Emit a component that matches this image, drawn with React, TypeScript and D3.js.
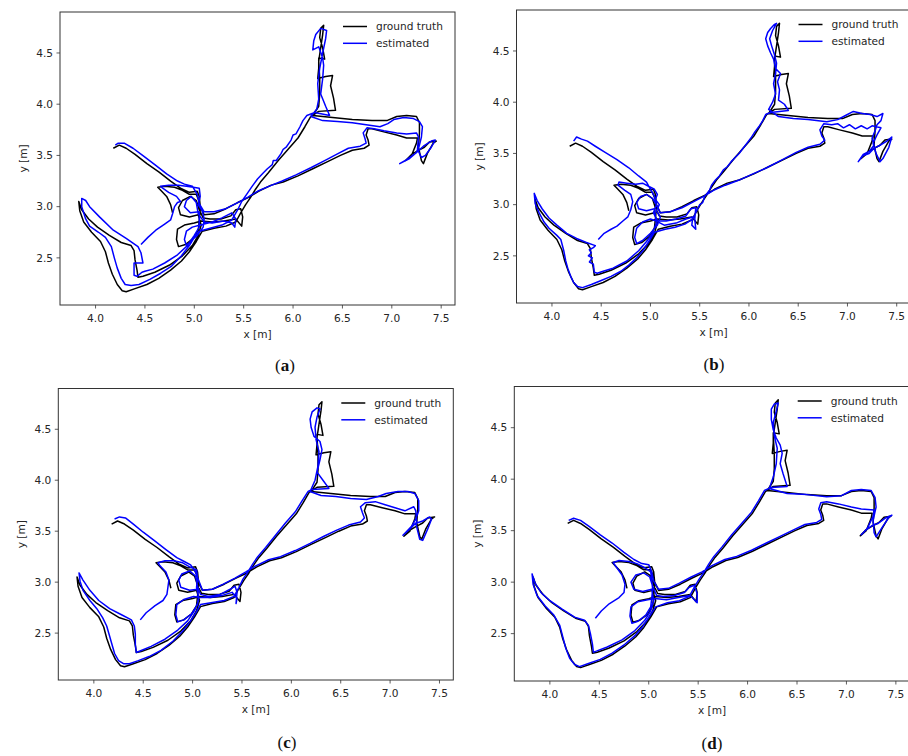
import React, { useRef, useEffect } from 'react';
import * as d3 from 'd3';

type Pt = [number, number];

const X_TICKS = [4.0, 4.5, 5.0, 5.5, 6.0, 6.5, 7.0, 7.5];
const Y_TICKS = [2.5, 3.0, 3.5, 4.0, 4.5];
const X_DOMAIN = [3.64, 7.64];
const Y_DOMAIN = [2.04, 4.9];
const LEGEND_LABELS = ['ground truth', 'estimated'];
const LINE_COLORS = ['#000000', '#0000ff'];
const PANEL_NAMES = ['a', 'b', 'c', 'd'];

// ground truth trajectory (same in every panel)
const GROUND_TRUTH: Pt[] = [
    [4.78, 2.94], [4.76, 3.02], [4.72, 3.10], [4.66, 3.16], [4.63, 3.19], [4.70, 3.20], [4.80, 3.19], [4.88, 3.16], [4.95, 3.12], [5.02, 3.12],
    [5.05, 3.05], [5.06, 2.96], [5.05, 2.86], [5.04, 2.77],
    [4.99, 2.69], [4.91, 2.63], [4.84, 2.61], [4.82, 2.68], [4.83, 2.78], [4.90, 2.82], [5.00, 2.84], [5.07, 2.86],
    [5.18, 2.85], [5.30, 2.86], [5.42, 2.88], [5.48, 2.81], [5.49, 2.90], [5.47, 2.98], [5.42, 2.97], [5.37, 2.91], [5.27, 2.88], [5.16, 2.88], [5.09, 2.89],
    [5.05, 2.97], [5.02, 3.06], [4.96, 3.10], [4.88, 3.06], [4.84, 2.99], [4.86, 2.92], [4.95, 2.90], [5.04, 2.92],
    [5.07, 2.82], [5.04, 2.72], [4.98, 2.62], [4.88, 2.52], [4.75, 2.43], [4.60, 2.36], [4.48, 2.32], [4.43, 2.31],
    [4.42, 2.38], [4.40, 2.48], [4.39, 2.57], [4.36, 2.62],
    [4.26, 2.65], [4.14, 2.72], [4.02, 2.80], [3.93, 2.88], [3.86, 2.97], [3.83, 3.05],
    [3.84, 2.96], [3.88, 2.85], [3.96, 2.75], [4.05, 2.66], [4.10, 2.56], [4.13, 2.45], [4.17, 2.34], [4.22, 2.24], [4.27, 2.18], [4.31, 2.17],
    [4.40, 2.20], [4.52, 2.24], [4.64, 2.30], [4.76, 2.38], [4.87, 2.47], [4.95, 2.56], [5.02, 2.66], [5.08, 2.76],
    [5.20, 2.79], [5.32, 2.81], [5.42, 2.85],
    [5.47, 2.94], [5.52, 3.02], [5.57, 3.09], [5.62, 3.17], [5.67, 3.24], [5.75, 3.33], [5.85, 3.45], [5.95, 3.56], [6.05, 3.67], [6.12, 3.78], [6.18, 3.88],
    [6.26, 3.93], [6.43, 3.94], [6.41, 4.06], [6.38, 4.18], [6.40, 4.28], [6.33, 4.27], [6.25, 4.25], [6.26, 4.35], [6.26, 4.45], [6.32, 4.44],
    [6.30, 4.55], [6.27, 4.65], [6.28, 4.74], [6.31, 4.77], [6.30, 4.68], [6.28, 4.55], [6.26, 4.42], [6.27, 4.25], [6.27, 4.10], [6.26, 3.98], [6.20, 3.89],
    [6.40, 3.87], [6.60, 3.85], [6.80, 3.84], [6.95, 3.84], [7.05, 3.88], [7.15, 3.89], [7.25, 3.88], [7.28, 3.82], [7.28, 3.72],
    [7.27, 3.58], [7.30, 3.45], [7.32, 3.42], [7.36, 3.52], [7.42, 3.62], [7.45, 3.64], [7.38, 3.63], [7.33, 3.58], [7.27, 3.55], [7.20, 3.51],
    [7.14, 3.45], [7.20, 3.50], [7.25, 3.62], [7.26, 3.67],
    [7.15, 3.67], [7.05, 3.70], [6.92, 3.73], [6.80, 3.76], [6.76, 3.76], [6.74, 3.70], [6.76, 3.65], [6.77, 3.60], [6.72, 3.57], [6.60, 3.55], [6.48, 3.50],
    [6.35, 3.44], [6.20, 3.37], [6.05, 3.30], [5.90, 3.24], [5.78, 3.21], [5.65, 3.15], [5.55, 3.09], [5.44, 3.04], [5.32, 2.98], [5.20, 2.93],
    [5.10, 2.92], [5.06, 3.00], [5.05, 3.10], [5.03, 3.15], [4.95, 3.14], [4.86, 3.18], [4.76, 3.25], [4.64, 3.34], [4.52, 3.42], [4.40, 3.51],
    [4.31, 3.57], [4.24, 3.60], [4.18, 3.57]
];

const ESTIMATED_A: Pt[] = [
    [4.46, 2.63], [4.53, 2.70], [4.61, 2.77], [4.70, 2.83], [4.76, 2.87], [4.78, 2.93], [4.80, 3.00], [4.83, 3.04], [4.86, 3.05], [4.82, 3.10],
    [4.74, 3.14], [4.68, 3.18], [4.66, 3.20], [4.74, 3.21], [4.84, 3.21], [4.92, 3.20], [4.99, 3.19], [5.05, 3.18],
    [5.06, 3.10], [5.04, 3.02], [5.08, 2.96], [5.10, 2.88], [5.09, 2.80],
    [5.03, 2.72], [4.96, 2.66], [4.92, 2.62], [4.90, 2.68], [4.92, 2.76], [4.98, 2.80], [5.06, 2.82],
    [5.18, 2.85], [5.28, 2.89], [5.38, 2.94], [5.42, 2.88], [5.41, 2.80], [5.38, 2.84], [5.30, 2.86], [5.18, 2.84], [5.10, 2.85],
    [5.04, 2.93], [5.02, 3.04], [4.97, 3.10], [4.92, 3.06], [4.90, 3.00], [4.96, 2.94], [5.05, 2.95],
    [5.05, 2.80], [5.00, 2.72], [4.93, 2.62], [4.83, 2.53], [4.70, 2.45], [4.58, 2.39], [4.50, 2.37], [4.47, 2.36],
    [4.42, 2.32], [4.39, 2.33], [4.39, 2.45], [4.48, 2.45], [4.46, 2.55], [4.43, 2.61],
    [4.31, 2.69], [4.18, 2.77], [4.04, 2.90], [3.94, 3.00], [3.90, 3.06], [3.86, 3.08],
    [3.86, 3.00], [3.90, 2.88], [3.94, 2.81], [4.03, 2.75], [4.10, 2.70], [4.16, 2.61], [4.19, 2.50], [4.22, 2.40], [4.26, 2.30], [4.30, 2.24], [4.36, 2.23],
    [4.44, 2.24], [4.55, 2.29], [4.66, 2.35], [4.77, 2.42], [4.87, 2.52], [4.95, 2.62], [5.00, 2.70], [5.05, 2.76],
    [5.16, 2.79], [5.28, 2.82], [5.38, 2.87],
    [5.44, 2.97], [5.48, 3.05], [5.53, 3.12], [5.58, 3.19], [5.64, 3.27], [5.70, 3.33], [5.74, 3.37], [5.79, 3.41], [5.80, 3.45], [5.83, 3.45],
    [5.88, 3.52], [5.90, 3.56], [5.93, 3.58], [5.98, 3.65], [6.00, 3.70], [6.03, 3.71], [6.07, 3.78], [6.10, 3.84], [6.14, 3.89],
    [6.22, 3.92], [6.37, 3.89], [6.33, 3.98], [6.28, 4.10], [6.30, 4.25], [6.31, 4.38], [6.30, 4.45], [6.26, 4.56], [6.20, 4.53], [6.21, 4.62],
    [6.23, 4.68], [6.28, 4.74], [6.34, 4.72], [6.33, 4.64], [6.30, 4.50], [6.27, 4.35], [6.25, 4.20], [6.26, 4.05], [6.24, 3.95], [6.18, 3.88],
    [6.30, 3.84], [6.45, 3.83], [6.60, 3.82], [6.74, 3.80], [6.88, 3.78], [6.96, 3.81], [7.02, 3.85], [7.12, 3.87], [7.22, 3.86], [7.28, 3.83], [7.31, 3.78],
    [7.30, 3.68], [7.28, 3.60], [7.25, 3.53], [7.18, 3.47], [7.08, 3.42], [7.15, 3.46], [7.24, 3.52], [7.32, 3.59], [7.40, 3.64], [7.44, 3.65],
    [7.40, 3.58], [7.34, 3.50], [7.30, 3.48], [7.26, 3.56], [7.27, 3.68], [7.25, 3.72],
    [7.15, 3.71], [7.05, 3.72], [6.92, 3.74], [6.82, 3.76], [6.75, 3.77], [6.71, 3.72], [6.73, 3.66], [6.74, 3.62], [6.68, 3.59], [6.56, 3.57], [6.44, 3.51],
    [6.32, 3.45], [6.18, 3.38], [6.03, 3.31], [5.89, 3.25], [5.76, 3.20], [5.64, 3.15], [5.54, 3.09], [5.44, 3.04], [5.32, 2.98], [5.20, 2.95],
    [5.10, 2.95], [5.05, 3.03], [5.03, 3.12], [4.98, 3.20], [4.90, 3.22], [4.83, 3.25], [4.72, 3.32], [4.60, 3.41], [4.49, 3.49], [4.38, 3.57],
    [4.29, 3.62], [4.23, 3.62], [4.20, 3.60]
];

const ESTIMATED_B: Pt[] = [
    [4.47, 2.66], [4.53, 2.72], [4.60, 2.76], [4.66, 2.79], [4.72, 2.84], [4.77, 2.88], [4.80, 2.95], [4.82, 3.03], [4.80, 3.10], [4.74, 3.14],
    [4.67, 3.19], [4.68, 3.22], [4.76, 3.21], [4.85, 3.20], [4.92, 3.21], [4.98, 3.18], [5.04, 3.15],
    [5.07, 3.10], [5.05, 3.05], [5.09, 3.00], [5.06, 2.94], [5.10, 2.88], [5.07, 2.80],
    [5.00, 2.72], [4.92, 2.65], [4.86, 2.62], [4.84, 2.68], [4.86, 2.77], [4.92, 2.83], [5.00, 2.86], [5.06, 2.84],
    [5.16, 2.84], [5.26, 2.86], [5.36, 2.89], [5.41, 2.96], [5.46, 2.97], [5.45, 2.86], [5.46, 2.76], [5.42, 2.80], [5.43, 2.88], [5.36, 2.86],
    [5.26, 2.82], [5.14, 2.80], [5.08, 2.83],
    [5.03, 2.92], [5.06, 3.00], [5.02, 3.06], [4.96, 3.10], [4.90, 3.08], [4.86, 3.02], [4.88, 2.96], [4.96, 2.94], [5.04, 2.96],
    [5.06, 2.82], [5.02, 2.72], [4.96, 2.64], [4.88, 2.55], [4.76, 2.45], [4.62, 2.38], [4.52, 2.35], [4.46, 2.33],
    [4.43, 2.34], [4.42, 2.42], [4.38, 2.44], [4.41, 2.48], [4.37, 2.50], [4.40, 2.53], [4.38, 2.56], [4.42, 2.58], [4.44, 2.60],
    [4.35, 2.63], [4.25, 2.67], [4.15, 2.72], [4.05, 2.80], [3.97, 2.87], [3.90, 2.96], [3.85, 3.04], [3.82, 3.11],
    [3.83, 3.01], [3.87, 2.92], [3.92, 2.83], [3.97, 2.77], [4.05, 2.70], [4.09, 2.66], [4.12, 2.55], [4.14, 2.45], [4.16, 2.38], [4.19, 2.30],
    [4.22, 2.24], [4.26, 2.20], [4.31, 2.19],
    [4.40, 2.22], [4.50, 2.26], [4.60, 2.30], [4.70, 2.35], [4.78, 2.41], [4.86, 2.48], [4.93, 2.56], [4.99, 2.65], [5.04, 2.73],
    [5.15, 2.76], [5.25, 2.78], [5.35, 2.81], [5.43, 2.86],
    [5.47, 2.94], [5.50, 3.00], [5.53, 3.02], [5.55, 3.08], [5.60, 3.14], [5.62, 3.19], [5.66, 3.24], [5.70, 3.28], [5.74, 3.34], [5.78, 3.37],
    [5.82, 3.42], [5.86, 3.46], [5.90, 3.50], [5.94, 3.55], [5.98, 3.60], [6.02, 3.65], [6.06, 3.71], [6.10, 3.76], [6.14, 3.82], [6.17, 3.88],
    [6.22, 3.90], [6.40, 3.92], [6.36, 3.98], [6.30, 4.02], [6.31, 4.12], [6.29, 4.20], [6.32, 4.28], [6.27, 4.33], [6.25, 4.42], [6.22, 4.48],
    [6.19, 4.55], [6.17, 4.62], [6.19, 4.68], [6.22, 4.72], [6.26, 4.76], [6.28, 4.77], [6.24, 4.70], [6.21, 4.62], [6.23, 4.55], [6.26, 4.46],
    [6.28, 4.38], [6.27, 4.28], [6.25, 4.18], [6.27, 4.08], [6.24, 4.00], [6.20, 3.93],
    [6.30, 3.86], [6.45, 3.84], [6.60, 3.83], [6.79, 3.81], [6.90, 3.83], [6.98, 3.87], [7.06, 3.91], [7.15, 3.89], [7.23, 3.88], [7.30, 3.86],
    [7.36, 3.89], [7.34, 3.82], [7.30, 3.78],
    [7.28, 3.72], [7.25, 3.65], [7.27, 3.58], [7.22, 3.52], [7.16, 3.49], [7.11, 3.42], [7.16, 3.48], [7.22, 3.50], [7.27, 3.55], [7.33, 3.58],
    [7.40, 3.62], [7.45, 3.66], [7.42, 3.56], [7.36, 3.45], [7.33, 3.42], [7.29, 3.50], [7.26, 3.60], [7.30, 3.68], [7.34, 3.75],
    [7.25, 3.77], [7.20, 3.74], [7.14, 3.77], [7.08, 3.74], [7.02, 3.78], [6.96, 3.75], [6.90, 3.79], [6.84, 3.78], [6.76, 3.79], [6.72, 3.73],
    [6.74, 3.67], [6.77, 3.63], [6.72, 3.59], [6.60, 3.56], [6.48, 3.51],
    [6.34, 3.44], [6.18, 3.36], [6.04, 3.30], [5.90, 3.24], [5.76, 3.19], [5.64, 3.14], [5.54, 3.08], [5.44, 3.03], [5.32, 2.97], [5.20, 2.93],
    [5.10, 2.92], [5.06, 3.00], [5.04, 3.08], [5.00, 3.15], [4.96, 3.22], [4.88, 3.28], [4.78, 3.36], [4.66, 3.44], [4.54, 3.51], [4.44, 3.57],
    [4.36, 3.62], [4.30, 3.64], [4.25, 3.66], [4.22, 3.62]
];

const ESTIMATED_C: Pt[] = [
    [4.47, 2.63], [4.53, 2.70], [4.62, 2.77], [4.70, 2.82], [4.74, 2.88], [4.75, 2.95], [4.76, 3.02], [4.73, 3.10], [4.67, 3.16], [4.65, 3.19],
    [4.72, 3.21], [4.81, 3.21], [4.90, 3.19], [4.97, 3.15], [5.04, 3.12],
    [5.05, 3.04], [5.04, 2.95], [5.06, 2.86], [5.05, 2.78],
    [4.99, 2.69], [4.91, 2.63], [4.85, 2.61], [4.83, 2.68], [4.84, 2.78], [4.91, 2.83], [5.01, 2.86], [5.08, 2.85],
    [5.18, 2.85], [5.30, 2.87], [5.40, 2.90], [5.45, 2.84], [5.44, 2.79], [5.45, 2.90], [5.43, 2.96], [5.38, 2.93], [5.28, 2.88], [5.16, 2.86], [5.08, 2.88],
    [5.05, 2.96], [5.03, 3.06], [4.97, 3.11], [4.89, 3.08], [4.86, 3.02], [4.88, 2.95], [4.97, 2.92], [5.05, 2.93],
    [5.06, 2.82], [5.02, 2.72], [4.95, 2.62], [4.85, 2.53], [4.72, 2.44], [4.58, 2.37], [4.48, 2.33], [4.43, 2.31],
    [4.42, 2.39], [4.42, 2.49], [4.41, 2.57], [4.38, 2.63],
    [4.28, 2.68], [4.16, 2.74], [4.05, 2.82], [3.96, 2.92], [3.89, 3.02], [3.85, 3.09],
    [3.86, 3.01], [3.89, 2.92], [3.96, 2.82], [4.03, 2.74], [4.09, 2.65], [4.13, 2.57], [4.16, 2.47], [4.18, 2.40], [4.21, 2.30], [4.25, 2.23],
    [4.30, 2.20], [4.36, 2.20],
    [4.45, 2.23], [4.56, 2.27], [4.68, 2.33], [4.80, 2.42], [4.90, 2.52], [4.98, 2.62], [5.04, 2.71], [5.08, 2.78],
    [5.20, 2.80], [5.32, 2.82], [5.42, 2.86],
    [5.47, 2.95], [5.51, 3.03], [5.56, 3.10], [5.61, 3.18], [5.66, 3.25], [5.74, 3.34], [5.84, 3.46], [5.94, 3.58], [6.04, 3.69], [6.11, 3.80], [6.17, 3.89],
    [6.21, 3.91], [6.38, 3.92], [6.32, 4.00], [6.26, 4.08], [6.29, 4.20], [6.31, 4.30], [6.29, 4.38], [6.23, 4.43], [6.20, 4.52], [6.19, 4.60],
    [6.21, 4.67], [6.26, 4.71], [6.29, 4.70], [6.26, 4.62], [6.24, 4.52], [6.25, 4.40], [6.28, 4.28], [6.27, 4.14], [6.24, 4.00], [6.19, 3.89],
    [6.30, 3.85], [6.45, 3.84], [6.60, 3.82], [6.76, 3.81], [6.88, 3.84], [6.96, 3.87], [7.08, 3.89], [7.18, 3.89], [7.25, 3.87], [7.29, 3.80],
    [7.29, 3.70], [7.26, 3.62], [7.22, 3.55], [7.15, 3.48], [7.13, 3.46], [7.20, 3.52], [7.26, 3.58], [7.30, 3.42], [7.33, 3.41], [7.38, 3.52],
    [7.42, 3.62], [7.40, 3.64], [7.33, 3.60], [7.27, 3.58], [7.26, 3.70], [7.24, 3.74],
    [7.15, 3.70], [7.05, 3.73], [6.95, 3.76], [6.85, 3.79], [6.75, 3.78], [6.70, 3.74], [6.72, 3.68], [6.74, 3.63], [6.70, 3.59], [6.58, 3.56], [6.46, 3.51],
    [6.33, 3.45], [6.19, 3.38], [6.04, 3.31], [5.89, 3.25], [5.77, 3.22], [5.64, 3.16], [5.54, 3.10], [5.43, 3.04], [5.31, 2.98], [5.20, 2.93],
    [5.10, 2.92], [5.06, 3.02], [5.03, 3.10], [4.98, 3.17], [4.92, 3.20], [4.84, 3.24], [4.73, 3.32], [4.61, 3.41], [4.50, 3.49], [4.40, 3.57],
    [4.32, 3.63], [4.26, 3.64], [4.21, 3.62]
];

const ESTIMATED_D: Pt[] = [
    [4.46, 2.65], [4.52, 2.72], [4.60, 2.79], [4.70, 2.85], [4.75, 2.90], [4.76, 2.98], [4.73, 3.07], [4.67, 3.15], [4.64, 3.19], [4.70, 3.21],
    [4.80, 3.20], [4.88, 3.18], [4.96, 3.14], [5.02, 3.10],
    [5.03, 3.02], [5.04, 2.93], [5.03, 2.84], [5.02, 2.76],
    [4.97, 2.68], [4.89, 2.62], [4.83, 2.60], [4.81, 2.67], [4.82, 2.76], [4.89, 2.81], [4.99, 2.83], [5.06, 2.84],
    [5.18, 2.83], [5.30, 2.85], [5.42, 2.87], [5.49, 2.80], [5.49, 2.89], [5.46, 2.97], [5.41, 2.95], [5.36, 2.90], [5.26, 2.87], [5.15, 2.86], [5.08, 2.87],
    [5.04, 2.96], [5.01, 3.05], [4.95, 3.09], [4.87, 3.07], [4.82, 3.00], [4.85, 2.93], [4.94, 2.91], [5.03, 2.93],
    [5.05, 2.82], [5.02, 2.72], [4.96, 2.63], [4.86, 2.53], [4.73, 2.44], [4.58, 2.37], [4.47, 2.33], [4.44, 2.32],
    [4.43, 2.40], [4.41, 2.50], [4.39, 2.58], [4.35, 2.63],
    [4.25, 2.66], [4.12, 2.74], [4.00, 2.82], [3.91, 2.90], [3.85, 2.99], [3.82, 3.08],
    [3.83, 2.98], [3.87, 2.87], [3.95, 2.77], [4.04, 2.68], [4.10, 2.58], [4.13, 2.47], [4.16, 2.36], [4.20, 2.26], [4.25, 2.20], [4.30, 2.18],
    [4.39, 2.21], [4.51, 2.25], [4.63, 2.31], [4.75, 2.39], [4.86, 2.48], [4.94, 2.57], [5.01, 2.67], [5.07, 2.76],
    [5.19, 2.80], [5.31, 2.82], [5.41, 2.86],
    [5.46, 2.95], [5.51, 3.03], [5.56, 3.10], [5.61, 3.18], [5.66, 3.25], [5.74, 3.34], [5.84, 3.46], [5.94, 3.57], [6.04, 3.68], [6.11, 3.79], [6.17, 3.89],
    [6.24, 3.92], [6.40, 3.93], [6.36, 4.05], [6.33, 4.15], [6.35, 4.25], [6.33, 4.33], [6.29, 4.40], [6.26, 4.48], [6.24, 4.58], [6.24, 4.68],
    [6.27, 4.73], [6.31, 4.74], [6.29, 4.66], [6.26, 4.55], [6.27, 4.42], [6.30, 4.30], [6.29, 4.15], [6.26, 4.02], [6.22, 3.91],
    [6.40, 3.86], [6.60, 3.85], [6.80, 3.83], [6.95, 3.84], [7.05, 3.89], [7.15, 3.90], [7.25, 3.89], [7.29, 3.82], [7.30, 3.73],
    [7.27, 3.60], [7.28, 3.48], [7.30, 3.44], [7.36, 3.53], [7.43, 3.63], [7.46, 3.65], [7.39, 3.62], [7.32, 3.57], [7.26, 3.55], [7.19, 3.50],
    [7.15, 3.46], [7.21, 3.52], [7.27, 3.64], [7.28, 3.70],
    [7.15, 3.71], [7.05, 3.73], [6.92, 3.76], [6.80, 3.78], [6.74, 3.77], [6.72, 3.71], [6.74, 3.66], [6.75, 3.61], [6.70, 3.58], [6.58, 3.56], [6.47, 3.51],
    [6.34, 3.45], [6.19, 3.38], [6.04, 3.31], [5.89, 3.25], [5.77, 3.22], [5.64, 3.16], [5.54, 3.10], [5.43, 3.05], [5.31, 2.99], [5.20, 2.94],
    [5.10, 2.93], [5.05, 3.01], [5.03, 3.10], [5.00, 3.17], [4.93, 3.18], [4.85, 3.22], [4.75, 3.29], [4.63, 3.38], [4.51, 3.46], [4.40, 3.54],
    [4.31, 3.60], [4.24, 3.62], [4.19, 3.60]
];

const ESTIMATES = [ESTIMATED_A, ESTIMATED_B, ESTIMATED_C, ESTIMATED_D];

// pixel frame of each axes box, and where its (x) caption sits
const LAYOUT = [
    { x0: 60, x1: 455, y0: 12, y1: 305, capX: 285, capY: 371 },
    { x0: 516.5, x1: 910.5, y0: 10, y1: 303, capX: 714, capY: 370 },
    { x0: 58.3, x1: 453.3, y0: 388.5, y1: 680, capX: 287, capY: 748 },
    { x0: 514.3, x1: 909.7, y0: 386.5, y1: 681, capX: 712, capY: 749 }
];

const FONT = 'DejaVu Sans, sans-serif';
const TEXT_COLOR = '#262626';

const App = () => {
    const ref = useRef<SVGSVGElement>(null);

    useEffect(() => {
        const svg = d3.select(ref.current);
        svg.selectAll('*').remove();

        LAYOUT.forEach((box, i) => {
            const xScale = d3.scaleLinear().domain(X_DOMAIN).range([box.x0, box.x1]);
            const yScale = d3.scaleLinear().domain(Y_DOMAIN).range([box.y1, box.y0]);
            const g = svg.append('g');

            const line = d3.line<Pt>()
                .x(d => xScale(d[0]))
                .y(d => yScale(d[1]));

            // trajectories: ground truth first, estimate on top
            [GROUND_TRUTH, ESTIMATES[i]].forEach((pts, k) => {
                g.append('path')
                    .datum(pts)
                    .attr('fill', 'none')
                    .attr('stroke', LINE_COLORS[k])
                    .attr('stroke-width', 1.5)
                    .attr('stroke-linejoin', 'round')
                    .attr('d', line);
            });

            // frame
            g.append('rect')
                .attr('x', box.x0)
                .attr('y', box.y0)
                .attr('width', box.x1 - box.x0)
                .attr('height', box.y1 - box.y0)
                .attr('fill', 'none')
                .attr('stroke', '#333')
                .attr('stroke-width', 1);

            // x ticks
            X_TICKS.forEach(t => {
                const x = xScale(t);
                g.append('line')
                    .attr('x1', x).attr('x2', x)
                    .attr('y1', box.y1).attr('y2', box.y1 + 3.5)
                    .attr('stroke', '#333').attr('stroke-width', 0.8);
                g.append('text')
                    .attr('x', x)
                    .attr('y', box.y1 + 17)
                    .attr('text-anchor', 'middle')
                    .attr('font-family', FONT)
                    .attr('font-size', 10.6)
                    .attr('fill', TEXT_COLOR)
                    .text(t.toFixed(1));
            });

            // y ticks
            Y_TICKS.forEach(t => {
                const y = yScale(t);
                g.append('line')
                    .attr('x1', box.x0 - 3.5).attr('x2', box.x0)
                    .attr('y1', y).attr('y2', y)
                    .attr('stroke', '#333').attr('stroke-width', 0.8);
                g.append('text')
                    .attr('x', box.x0 - 7)
                    .attr('y', y + 3.8)
                    .attr('text-anchor', 'end')
                    .attr('font-family', FONT)
                    .attr('font-size', 10.6)
                    .attr('fill', TEXT_COLOR)
                    .text(t.toFixed(1));
            });

            // axis labels
            g.append('text')
                .attr('x', (box.x0 + box.x1) / 2)
                .attr('y', box.y1 + 33)
                .attr('text-anchor', 'middle')
                .attr('font-family', FONT)
                .attr('font-size', 10.6)
                .attr('fill', TEXT_COLOR)
                .text('x [m]');
            g.append('text')
                .attr('transform', 'translate(' + (box.x0 - 37) + ',' + ((box.y0 + box.y1) / 2) + ') rotate(-90)')
                .attr('dy', '0.35em')
                .attr('text-anchor', 'middle')
                .attr('font-family', FONT)
                .attr('font-size', 10.6)
                .attr('fill', TEXT_COLOR)
                .text('y [m]');

            // legend
            LEGEND_LABELS.forEach((label, k) => {
                const ly = box.y0 + 14.5 + k * 16.8;
                g.append('line')
                    .attr('x1', box.x1 - 112).attr('x2', box.x1 - 88)
                    .attr('y1', ly).attr('y2', ly)
                    .attr('stroke', LINE_COLORS[k]).attr('stroke-width', 1.5);
                g.append('text')
                    .attr('x', box.x1 - 79)
                    .attr('y', ly + 3.8)
                    .attr('font-family', FONT)
                    .attr('font-size', 10.6)
                    .attr('fill', TEXT_COLOR)
                    .text(label);
            });

            // sub-figure caption
            const cap = g.append('text')
                .attr('x', box.capX)
                .attr('y', box.capY)
                .attr('text-anchor', 'middle')
                .attr('font-family', 'Liberation Serif, serif')
                .attr('font-size', 17)
                .attr('fill', '#111');
            cap.append('tspan').text('(');
            cap.append('tspan').attr('font-weight', 'bold').text(PANEL_NAMES[i]);
            cap.append('tspan').text(')');
        });
    }, []);

    return (
        <svg ref={ref} width={908} height={756} style={{ display: 'block', position: 'absolute', left: 0, top: 0, background: '#fff' }}></svg>
    );
};

export default App;
